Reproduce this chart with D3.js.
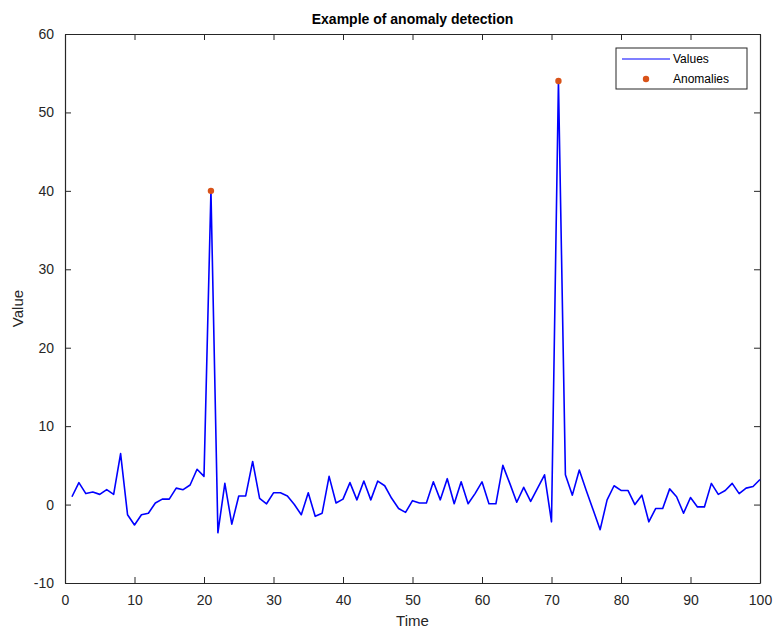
<!DOCTYPE html>
<html>
<head>
<meta charset="utf-8">
<script src="https://cdn.jsdelivr.net/npm/d3@7"></script>
<style>
  body { margin: 0; background: #fff; }
  svg { font-family: "Liberation Sans", Arial, Helvetica, sans-serif; }
</style>
</head>
<body>
<div id="chart"></div>
<script>
// time steps 1..100
var times = d3.range(1, 101);
var values = [
  1.0, 2.8, 1.4, 1.6, 1.3, 1.9, 1.3, 6.5, -1.3, -2.6,
  -1.3, -1.1, 0.2, 0.7, 0.7, 2.1, 1.9, 2.5, 4.5, 3.6,
  40.0, -3.6, 2.7, -2.5, 1.1, 1.1, 5.5, 0.8, 0.1, 1.5,
  1.5, 1.1, 0.0, -1.3, 1.5, -1.5, -1.1, 3.6, 0.2, 0.7,
  2.8, 0.6, 3.0, 0.6, 3.0, 2.4, 0.8, -0.5, -1.0, 0.5,
  0.2, 0.2, 2.9, 0.6, 3.3, 0.1, 2.9, 0.1, 1.4, 2.9,
  0.1, 0.1, 5.0, 2.7, 0.3, 2.2, 0.4, 2.1, 3.8, -2.2,
  54.0, 3.8, 1.2, 4.4, 1.8, -0.7, -3.2, 0.6, 2.4, 1.8,
  1.8, 0.0, 1.2, -2.2, -0.5, -0.5, 2.0, 1.0, -1.1, 0.9,
  -0.3, -0.3, 2.7, 1.3, 1.8, 2.7, 1.4, 2.1, 2.3, 3.2
];
var anomalyTimes = [21, 71];
var xTicks = d3.range(0, 101, 10);
var yTicks = d3.range(-10, 61, 10);

var W = 774, H = 630;
var margin = { top: 34, right: 14, bottom: 47, left: 65 },
  width = W - margin.left - margin.right,
  height = H - margin.top - margin.bottom;

var svg = d3.select("#chart").append("svg")
  .attr("width", W)
  .attr("height", H);

var g = svg.append("g")
  .attr("transform", "translate(" + margin.left + "," + margin.top + ")");

var x = d3.scaleLinear().domain([0, 100]).range([0, width]);
var y = d3.scaleLinear().domain([-10, 60]).range([height, 0]);

var axisColor = "#262626";
var plain = function (d) { return String(d); }; // hyphen minus like the original

// axes, MATLAB style: ticks pointing inward, box on all sides
var xAxis = g.append("g")
  .attr("transform", "translate(0," + height + ")")
  .call(d3.axisBottom(x).tickValues(xTicks).tickFormat(plain).tickSizeInner(-6).tickSizeOuter(0).tickPadding(12));
var yAxis = g.append("g")
  .call(d3.axisLeft(y).tickValues(yTicks).tickFormat(plain).tickSizeInner(-6).tickSizeOuter(0).tickPadding(11));
var xTop = g.append("g")
  .call(d3.axisTop(x).tickValues(xTicks).tickSizeInner(-6).tickSizeOuter(0).tickFormat(""));
var yRight = g.append("g")
  .attr("transform", "translate(" + width + ",0)")
  .call(d3.axisRight(y).tickValues(yTicks).tickSizeInner(-6).tickSizeOuter(0).tickFormat(""));

[xAxis, yAxis, xTop, yRight].forEach(function (a) {
  a.select(".domain").attr("stroke", axisColor).attr("stroke-width", 1.2);
  a.selectAll(".tick line").attr("stroke", axisColor).attr("stroke-width", 1);
  a.selectAll(".tick text").attr("fill", axisColor).style("font-size", "14px");
});

// line
var line = d3.line()
  .x(function (d, i) { return x(times[i]); })
  .y(function (d) { return y(d); });

g.append("path")
  .datum(values)
  .attr("fill", "none")
  .attr("stroke", "#0000ff")
  .attr("stroke-width", 1.6)
  .attr("stroke-linejoin", "round")
  .attr("d", line);

// anomalies
g.selectAll(".anom")
  .data(anomalyTimes)
  .enter().append("circle")
  .attr("class", "anom")
  .attr("cx", function (d) { return x(d); })
  .attr("cy", function (d) { return y(values[times.indexOf(d)]); })
  .attr("r", 3.2)
  .attr("fill", "#d95319");

// title and labels
svg.append("text")
  .attr("x", margin.left + width / 2)
  .attr("y", 24)
  .attr("text-anchor", "middle")
  .style("font-size", "14px")
  .style("font-weight", "bold")
  .attr("fill", "#000")
  .text("Example of anomaly detection");

svg.append("text")
  .attr("x", margin.left + width / 2)
  .attr("y", 626)
  .attr("text-anchor", "middle")
  .style("font-size", "15px")
  .attr("fill", axisColor)
  .text("Time");

svg.append("text")
  .attr("transform", "translate(23," + (margin.top + height / 2) + ") rotate(-90)")
  .attr("text-anchor", "middle")
  .style("font-size", "15px")
  .attr("fill", axisColor)
  .text("Value");

// legend
var legend = svg.append("g").attr("transform", "translate(616,48)");
legend.append("rect")
  .attr("width", 131)
  .attr("height", 41)
  .attr("fill", "#fff")
  .attr("stroke", axisColor)
  .attr("stroke-width", 1);
legend.append("line")
  .attr("x1", 6).attr("x2", 54)
  .attr("y1", 11).attr("y2", 11)
  .attr("stroke", "#0000ff")
  .attr("stroke-width", 1.2);
legend.append("text")
  .attr("x", 57).attr("y", 15)
  .style("font-size", "12px")
  .attr("fill", "#000")
  .text("Values");
legend.append("circle")
  .attr("cx", 30).attr("cy", 31)
  .attr("r", 3.2)
  .attr("fill", "#d95319");
legend.append("text")
  .attr("x", 57).attr("y", 35)
  .style("font-size", "12px")
  .attr("fill", "#000")
  .text("Anomalies");
</script>
</body>
</html>
